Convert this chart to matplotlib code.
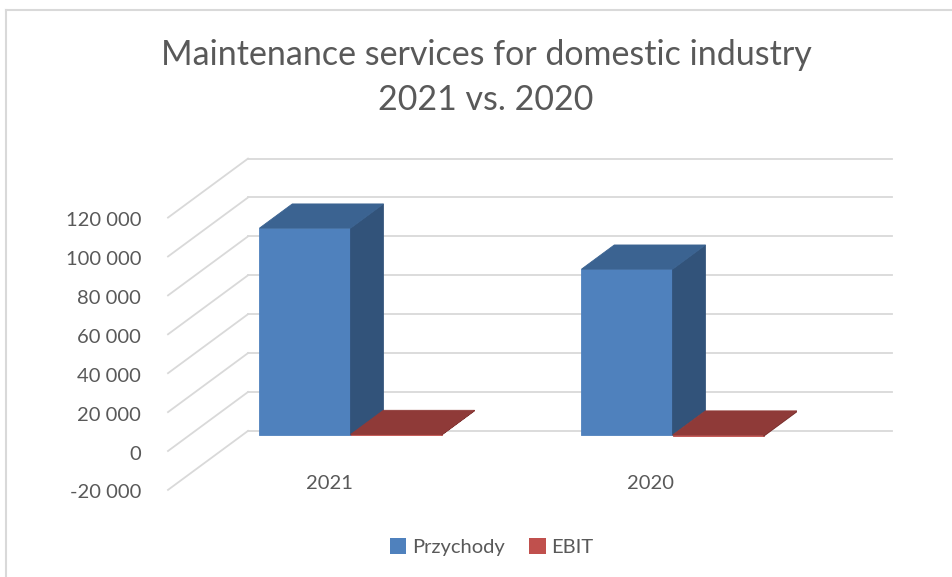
import matplotlib
matplotlib.use("Agg")
import matplotlib.pyplot as plt
from matplotlib.patches import Polygon, Patch
from matplotlib.lines import Line2D

# data
categories = ["2021", "2020"]
przychody = [106400, 85300]
ebit = [300, -600]
series_names = ["Przychody", "EBIT"]
ticks = [-20000, 0, 20000, 40000, 60000, 80000, 100000, 120000]

# colours: front / top / side faces
blue = ("#4F81BD", "#3B6391", "#32537A")
red = ("#C0504D", "#8F3A38", "#7A2F2D")
grid_c = "#D9D9D9"
text_c = "#595959"

plt.rcParams["font.family"] = ["Lato", "DejaVu Sans"]

W, H, DPI = 952, 577, 100
fig = plt.figure(figsize=(W / DPI, H / DPI), dpi=DPI)
ax = fig.add_axes([0, 0, 1, 1])
ax.axis("off")

# one category = 322 px, 20 000 = 38.9 px, category 0 at x=329, value 0 at y=451 (front)
cat_px = 322.0
val_per_px = 20000 / 38.9
ax.set_xlim(-329 / cat_px, (W - 329) / cat_px)
ax.set_ylim((451 - H) * val_per_px, 451 * val_per_px)

# oblique depth: full depth shifts 80 px right and 59 px up
DX = 80 / cat_px
DY = 59 * val_per_px


def P(x, v, d):
    return (x + d * DX, v + d * DY)


x_lo, x_hi = -0.5, len(categories) - 0.5
vmin, vmax = ticks[0], ticks[-1]

# back wall and side wall gridlines
for v in ticks:
    a, b = P(x_lo, v, 1), P(x_hi, v, 1)
    ax.plot([a[0], b[0]], [a[1], b[1]], color=grid_c, lw=1.3, zorder=1)
    a, b = P(x_lo, v, 0), P(x_lo, v, 1)
    ax.plot([a[0], b[0]], [a[1], b[1]], color=grid_c, lw=1.3, zorder=1)
    ax.text(x_lo - 27 / cat_px, v - 3 * val_per_px, f"{v:,}".replace(",", " "),
            ha="right", va="center", fontsize=14.5, color=text_c)

# 3d columns
bw = 0.283
d0, d1 = 0.27, 0.68


def bar3d(x0, x1, v, cols):
    lo, hi = min(0, v), max(0, v)
    front = [P(x0, lo, d0), P(x1, lo, d0), P(x1, hi, d0), P(x0, hi, d0)]
    top = [P(x0, hi, d0), P(x1, hi, d0), P(x1, hi, d1), P(x0, hi, d1)]
    side = [P(x1, lo, d0), P(x1, lo, d1), P(x1, hi, d1), P(x1, hi, d0)]
    for pts, c in ((front, cols[0]), (side, cols[2]), (top, cols[1])):
        ax.add_patch(Polygon(pts, closed=True, facecolor=c, edgecolor=c,
                             lw=0.6, zorder=3))


for i in range(len(categories)):
    bar3d(i - bw, i, przychody[i], blue)
    bar3d(i, i + bw, ebit[i], red)
    ax.text(i, vmin + 6 * val_per_px, categories[i], ha="center", va="center",
            fontsize=14.5, color=text_c)

# title
fig.text(486 / W, 1 - 55 / H, "Maintenance services for domestic industry",
         ha="center", va="center", fontsize=24.5, color=text_c)
fig.text(486 / W, 1 - 100 / H, "2021 vs. 2020",
         ha="center", va="center", fontsize=24.5, color=text_c)

# legend
handles = [Patch(facecolor=blue[0], label=series_names[0]),
           Patch(facecolor=red[0], label=series_names[1])]
fig.legend(handles=handles, loc="center", bbox_to_anchor=(492 / W, 1 - 547 / H),
           ncol=2, frameon=False, fontsize=14.5, labelcolor=text_c,
           handlelength=0.8, handleheight=0.8, handletextpad=0.3, columnspacing=1.2)

# chart border
fig.add_artist(Line2D([6 / W, 1], [1 - 10 / H, 1 - 10 / H], color=grid_c, lw=1.5))
fig.add_artist(Line2D([6 / W, 6 / W], [0, 1 - 10 / H], color=grid_c, lw=1.5))

fig.savefig("out.png", dpi=DPI)
